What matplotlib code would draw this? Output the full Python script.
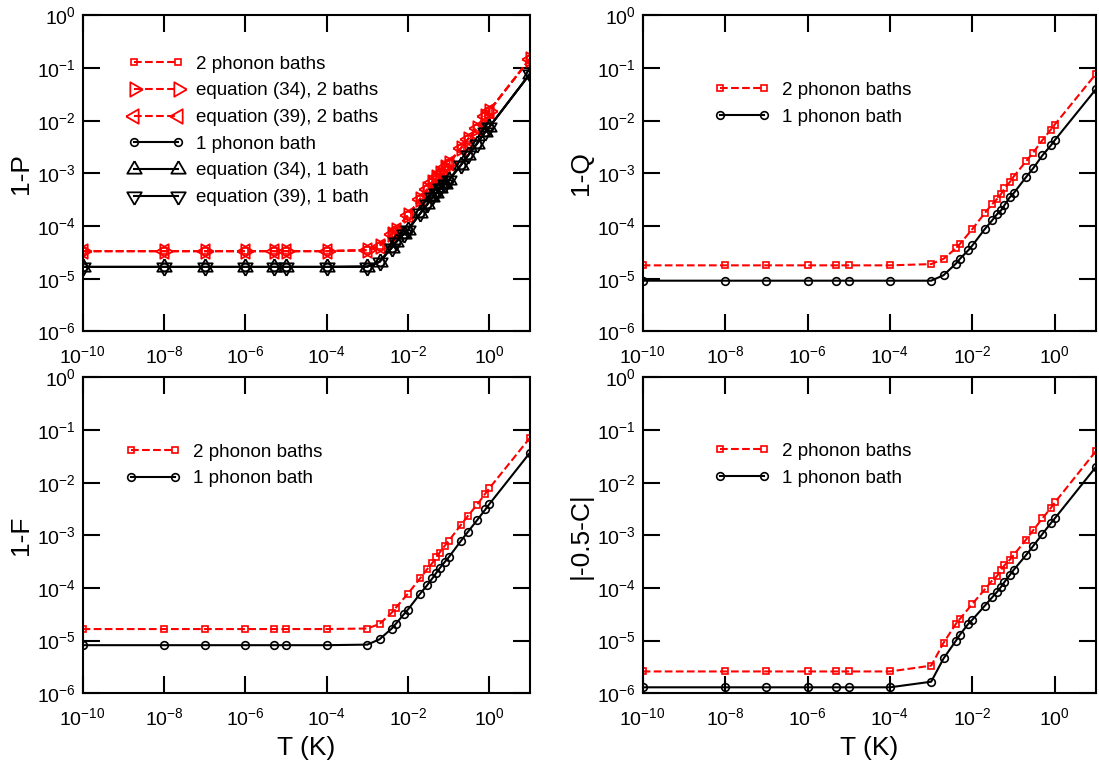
import matplotlib
matplotlib.use("Agg")
import matplotlib.pyplot as plt
from matplotlib.ticker import NullLocator

plt.rcParams['font.family'] = ['Liberation Sans', 'DejaVu Sans']
plt.rcParams['mathtext.fontset'] = 'custom'
plt.rcParams['mathtext.rm'] = 'Liberation Sans'
plt.rcParams['mathtext.default'] = 'regular'

# temperatures (K); the 2-bath runs skip T = 8e-3
t_two = [1e-10, 1e-8, 1e-7, 1e-6, 5e-6, 1e-5, 1e-4, 1e-3, 2e-3, 4e-3, 5e-3,
         1e-2, 2e-2, 3e-2, 4e-2, 5e-2, 6e-2, 8e-2, 1e-1, 2e-1, 3e-1, 5e-1,
         8e-1, 1.0, 10.0]
t_one = [1e-10, 1e-8, 1e-7, 1e-6, 5e-6, 1e-5, 1e-4, 1e-3, 2e-3, 4e-3, 5e-3,
         8e-3, 1e-2, 2e-2, 3e-2, 4e-2, 5e-2, 6e-2, 8e-2, 1e-1, 2e-1, 3e-1,
         5e-1, 8e-1, 1.0, 10.0]

# 1-P
p_two = [3.35e-5, 3.35e-5, 3.35e-5, 3.35e-5, 3.35e-5, 3.35e-5, 3.35e-5,
         3.5e-5, 4.2e-5, 7.2e-5, 8.6e-5, 1.6e-4, 3.3e-4, 5.0e-4, 6.8e-4,
         8.4e-4, 1.0e-3, 1.3e-3, 1.55e-3, 3.0e-3, 4.5e-3, 7.4e-3, 1.25e-2,
         1.55e-2, 1.5e-1]
p_one = [1.68e-5, 1.68e-5, 1.68e-5, 1.68e-5, 1.68e-5, 1.68e-5, 1.68e-5,
         1.7e-5, 2.1e-5, 3.9e-5, 4.9e-5, 7.2e-5, 8.5e-5, 1.74e-4, 2.6e-4,
         3.5e-4, 4.3e-4, 5.2e-4, 6.4e-4, 7.4e-4, 1.44e-3, 2.2e-3, 3.7e-3,
         6.2e-3, 7.6e-3, 7.8e-2]

# 1-Q
q_two = [1.8e-5, 1.8e-5, 1.8e-5, 1.8e-5, 1.8e-5, 1.8e-5, 1.8e-5,
         1.9e-5, 2.4e-5, 3.8e-5, 4.6e-5, 8.8e-5, 1.77e-4, 2.6e-4, 3.3e-4,
         4.1e-4, 5.2e-4, 6.8e-4, 8.7e-4, 1.7e-3, 2.5e-3, 4.3e-3, 6.8e-3,
         8.5e-3, 7.8e-2]
q_one = [9.2e-6, 9.2e-6, 9.2e-6, 9.2e-6, 9.2e-6, 9.2e-6, 9.2e-6,
         9.2e-6, 1.17e-5, 1.95e-5, 2.4e-5, 3.5e-5, 4.3e-5, 8.8e-5, 1.28e-4,
         1.7e-4, 2.0e-4, 2.5e-4, 3.5e-4, 4.2e-4, 8.5e-4, 1.26e-3, 2.2e-3,
         3.4e-3, 4.3e-3, 4.0e-2]

# 1-F
f_two = [1.66e-5, 1.66e-5, 1.66e-5, 1.66e-5, 1.66e-5, 1.66e-5, 1.66e-5,
         1.7e-5, 2.07e-5, 3.4e-5, 4.2e-5, 7.8e-5, 1.53e-4, 2.3e-4, 3.0e-4,
         3.8e-4, 4.7e-4, 6.3e-4, 7.8e-4, 1.57e-3, 2.35e-3, 3.8e-3, 6.2e-3,
         7.8e-3, 7.1e-2]
f_one = [8.2e-6, 8.2e-6, 8.2e-6, 8.2e-6, 8.2e-6, 8.2e-6, 8.2e-6,
         8.4e-6, 1.06e-5, 1.7e-5, 2.07e-5, 3.2e-5, 3.9e-5, 7.8e-5, 1.14e-4,
         1.53e-4, 1.95e-4, 2.35e-4, 3.1e-4, 3.8e-4, 7.8e-4, 1.17e-3, 1.93e-3,
         3.1e-3, 3.9e-3, 3.7e-2]

# |-0.5-C|
c_two = [2.6e-6, 2.6e-6, 2.6e-6, 2.6e-6, 2.6e-6, 2.6e-6, 2.6e-6,
         3.35e-6, 9.1e-6, 2.1e-5, 2.6e-5, 5.0e-5, 9.4e-5, 1.38e-4, 1.7e-4,
         2.2e-4, 2.7e-4, 3.4e-4, 4.2e-4, 8.3e-4, 1.25e-3, 2.1e-3, 3.3e-3,
         4.2e-3, 4.0e-2]
c_one = [1.3e-6, 1.3e-6, 1.3e-6, 1.3e-6, 1.3e-6, 1.3e-6, 1.3e-6,
         1.66e-6, 4.6e-6, 1.0e-5, 1.3e-5, 2.1e-5, 2.5e-5, 4.6e-5, 6.6e-5,
         8.5e-5, 1.06e-4, 1.3e-4, 1.74e-4, 2.2e-4, 4.2e-4, 6.3e-4, 1.06e-3,
         1.7e-3, 2.1e-3, 2.0e-2]

RED = '#ff0000'
LEG_FS = 13.5

# triangles centred on their centroid, so opposite pairs overlap as a star
TRI_UP = [(0, 1), (-0.866, -0.5), (0.866, -0.5), (0, 1)]
TRI_DOWN = [(0, -1), (-0.866, 0.5), (0.866, 0.5), (0, -1)]
TRI_RIGHT = [(1, 0), (-0.5, 0.866), (-0.5, -0.866), (1, 0)]
TRI_LEFT = [(-1, 0), (0.5, 0.866), (0.5, -0.866), (-1, 0)]


def setup(ax, ylabel, xlabel=None):
    ax.set_xscale('log')
    ax.set_yscale('log')
    ax.set_xlim(1e-10, 10)
    ax.set_ylim(1e-6, 1)
    ax.set_xticks([10.0 ** k for k in range(-10, 1, 2)])
    ax.set_yticks([10.0 ** k for k in range(-6, 1)])
    ax.xaxis.set_minor_locator(NullLocator())
    ax.yaxis.set_minor_locator(NullLocator())
    ax.tick_params(which='major', direction='in', length=12, width=1.5,
                   top=True, right=True, labelsize=14)
    ax.tick_params(axis='x', pad=10)
    ax.tick_params(axis='y', pad=5)
    for s in ax.spines.values():
        s.set_linewidth(1.5)
    ax.set_ylabel(ylabel, fontsize=19, labelpad=3)
    if xlabel:
        ax.set_xlabel(xlabel, fontsize=19, labelpad=5)


def two_curves(ax, y2, y1):
    ax.plot(t_two, y2, '--', color=RED, lw=1.5, marker='s', ms=5,
            mfc='none', mec=RED, mew=1.2, label='2 phonon baths')
    ax.plot(t_one, y1, '-', color='black', lw=1.5, marker='o', ms=5.5,
            mfc='none', mec='black', mew=1.2, label='1 phonon bath')


def add_legend(ax, x0, y0):
    ax.legend(loc='upper left', bbox_to_anchor=(x0, y0), frameon=False,
              fontsize=LEG_FS, numpoints=2, handlelength=2.95,
              handletextpad=0.68, labelspacing=0.51, borderpad=0,
              borderaxespad=0)


fig = plt.figure(figsize=(10.99, 7.66), dpi=100)
ax1 = fig.add_axes([0.0752, 0.5673, 0.407, 0.4125])
ax2 = fig.add_axes([0.5848, 0.5673, 0.4125, 0.4125])
ax3 = fig.add_axes([0.0752, 0.0949, 0.407, 0.4125])
ax4 = fig.add_axes([0.5848, 0.0949, 0.4125, 0.4125])

# top left: data plus the two analytic estimates for each case
ax1.plot(t_two, p_two, '--', color=RED, lw=1.5, marker='s', ms=5,
         mfc='none', mec=RED, mew=1.2, label='2 phonon baths')
ax1.plot(t_two, p_two, '--', color=RED, lw=1.5, marker=TRI_RIGHT, ms=12,
         mfc='none', mec=RED, mew=1.3, label='equation (34), 2 baths')
ax1.plot(t_two, p_two, '--', color=RED, lw=1.5, marker=TRI_LEFT, ms=12,
         mfc='none', mec=RED, mew=1.3, label='equation (39), 2 baths')
ax1.plot(t_one, p_one, '-', color='black', lw=1.5, marker='o', ms=5.5,
         mfc='none', mec='black', mew=1.2, label='1 phonon bath')
ax1.plot(t_one, p_one, '-', color='black', lw=1.5, marker=TRI_UP, ms=12,
         mfc='none', mec='black', mew=1.3, label='equation (34), 1 bath')
ax1.plot(t_one, p_one, '-', color='black', lw=1.5, marker=TRI_DOWN, ms=12,
         mfc='none', mec='black', mew=1.3, label='equation (39), 1 bath')
setup(ax1, '1-P')
add_legend(ax1, 0.102, 0.873)

two_curves(ax2, q_two, q_one)
setup(ax2, '1-Q')
add_legend(ax2, 0.158, 0.79)

two_curves(ax3, f_two, f_one)
setup(ax3, '1-F', 'T (K)')
add_legend(ax3, 0.095, 0.79)

two_curves(ax4, c_two, c_one)
setup(ax4, '|-0.5-C|', 'T (K)')
add_legend(ax4, 0.158, 0.793)

fig.savefig('out.png', dpi=100)
